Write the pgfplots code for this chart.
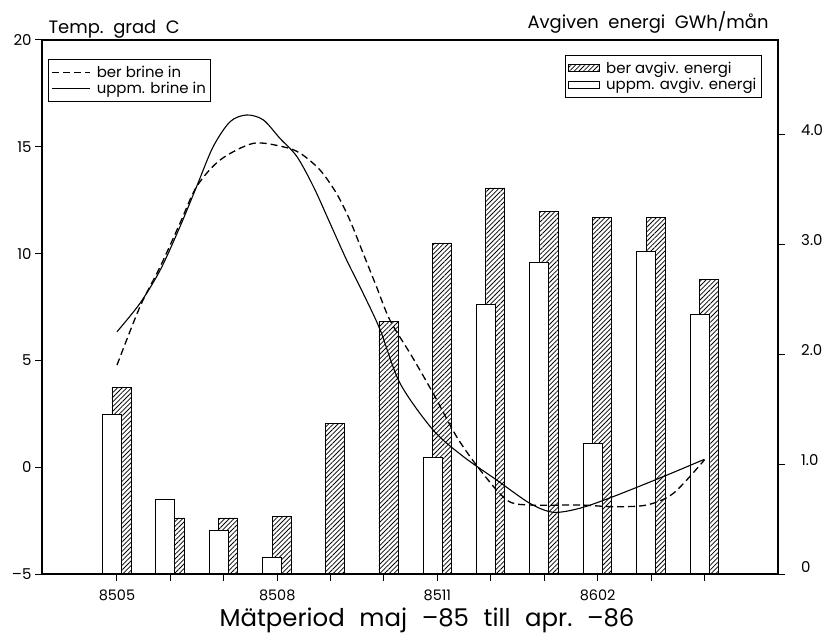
\documentclass[border=0pt]{standalone}
\usepackage{fontspec}
\setmainfont{Poppins}
\usepackage{pgfplots}
\pgfplotsset{compat=1.18}
\usetikzlibrary{patterns.meta}

\tikzset{legbox/.style={draw=black, line width=1bp,
    font=\fontsize{15}{15}\selectfont, inner xsep=3bp, inner ysep=5bp,
    row sep=0.5bp, column sep=4bp, nodes={inner ysep=1.4bp}}}

\pgfplotsset{common/.style={
  at={(0,0)}, anchor=south west, scale only axis,
  width=736bp, height=534bp,
  xmin=-1.404, xmax=12.378,
  tick align=outside, major tick length=7bp,
  every tick/.style={line width=1bp,black},
  axis line style={line width=1.5bp},
  /pgf/number format/assume math mode=true,
},
barleg/.style={legend image code/.code={\draw[##1] (0bp,-3.5bp) rectangle (31bp,3.5bp);}},
lineleg/.style={legend image code/.code={\draw[##1] (0bp,0bp) -- (38bp,0bp);}},
}

\begin{document}
\begin{tikzpicture}
\useasboundingbox (-42bp,-62bp) rectangle (789bp,574bp);
% energy axis (bars, right)
\begin{axis}[common,
  ymin=0, ymax=4.855,
  axis x line=none, axis y line*=right,
  ytick={0,1,2,3,4}, yticklabels={\raisebox{6bp}{0},1.0,2.0,3.0,4.0},
  yticklabel style={font=\fontsize{15}{18}\selectfont, inner sep=0pt, xshift=16bp, yshift=4bp},
  legend style={legbox, at={(0.978,0.972)}, anchor=north east},
  legend cell align=left,
]
\addplot[ybar, bar width=19bp, bar shift=4.5bp, draw=black, line width=0.8bp,
  pattern={Lines[angle=45,distance=3.3bp,line width=0.75bp]}, barleg]
  coordinates {(0,1.70) (1,0.51) (2,0.51) (3,0.52) (4,1.37) (5,2.30) (6,3.01) (7,3.51) (8,3.30) (9,3.24) (10,3.24) (11,2.68)};
\addlegendentry{ber avgiv. energi}
\addplot[ybar, bar width=19bp, bar shift=-5bp, draw=black, line width=0.8bp, fill=white, barleg]
  coordinates {(0,1.45) (1,0.68) (2,0.40) (3,0.15) (6,1.06) (7,2.45) (8,2.83) (9,1.19) (10,2.93) (11,2.36)};
\addlegendentry{uppm. avgiv. energi}
\end{axis}
% temperature axis (curves, left)
\begin{axis}[common, name=t,
  ymin=-5, ymax=20,
  ytick={-5,0,5,10,15,20}, yticklabels={–5,0,5,10,15,20},
  ytick pos=left, xtick pos=bottom,
  xtick={0,...,11}, xticklabels={8505,,,8508,,,8511,,,8602,,},
  yticklabel style={font=\fontsize{15}{18}\selectfont},
  xticklabel style={font=\fontsize{14.5}{17}\selectfont, yshift=-5bp},
  legend style={legbox, at={(0.0082,0.9644)}, anchor=north west},
  legend cell align=left,
]
\addplot[black, line width=1.3bp, smooth, dash pattern=on 7bp off 4bp, lineleg]
  coordinates {(0,4.78) (0.43,7.51) (0.81,9.39) (1.18,11.42) (1.49,13.13) (1.93,14.38) (2.55,15.16) (3.11,15.0) (3.43,14.70) (3.80,13.92) (4.11,12.82) (4.36,11.57) (4.61,10.01) (4.86,8.45) (5.11,6.89) (5.52,5.2) (5.92,3.46) (6.36,1.43) (6.80,-0.13) (7.30,-1.54) (7.73,-1.77) (8.67,-1.77) (9.29,-1.85) (9.92,-1.77) (10.42,-1.22) (11.0,0.34)};
\addlegendentry{ber brine in}
\addplot[black, line width=1.1bp, smooth, lineleg]
  coordinates {(0,6.34) (0.43,7.67) (0.81,9.23) (1.18,11.26) (1.49,13.13) (1.80,15.0) (2.12,16.18) (2.43,16.49) (2.74,16.26) (3.05,15.4) (3.37,14.54) (3.68,13.13) (3.99,11.42) (4.30,9.70) (4.61,8.14) (4.93,6.42) (5.30,3.93) (5.92,1.74) (6.49,0.49) (7.11,-0.60) (7.73,-1.69) (8.17,-2.11) (8.67,-1.92) (9.29,-1.38) (10.23,-0.44) (11.0,0.37)};
\addlegendentry{uppm. brine in}
\end{axis}
\node[anchor=base west, font=\fontsize{18}{21}\selectfont, xshift=3bp, yshift=6.7bp] at (t.north west) {Temp.\ \ grad\ \ C};
\node[anchor=base east, font=\fontsize{18}{21}\selectfont, xshift=-6bp, yshift=11.7bp] at (t.north east) {Avgiven\ \ energi\ \ GWh/mån};
\node[anchor=base, font=\fontsize{24.5}{28}\selectfont, xshift=385bp, yshift=-52.7bp] at (t.south west) {Mätperiod\hspace{0.6em}maj\hspace{0.6em}–85\hspace{0.6em}till\hspace{0.6em}apr.\hspace{0.6em}–86};
\end{tikzpicture}
\end{document}
